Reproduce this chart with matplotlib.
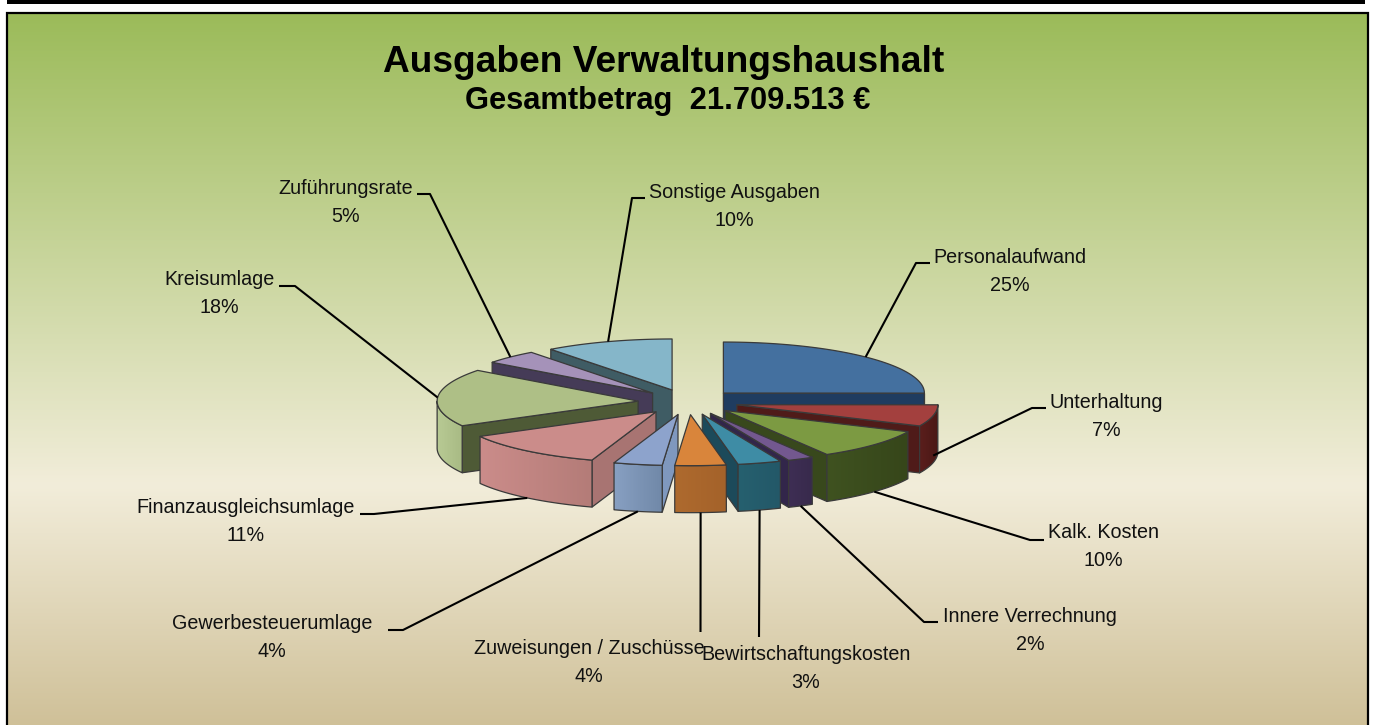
import numpy as np
import matplotlib
matplotlib.use("Agg")
import matplotlib.pyplot as plt
from matplotlib.patches import Polygon, Rectangle
from matplotlib.colors import to_rgb

# ---- data ----
categories = ["Personalaufwand", "Unterhaltung", "Kalk. Kosten", "Innere Verrechnung",
              "Bewirtschaftungskosten", "Zuweisungen / Zuschüsse", "Gewerbesteuerumlage",
              "Finanzausgleichsumlage", "Kreisumlage", "Zuführungsrate", "Sonstige Ausgaben"]
shares = [25.0, 6.8, 9.7, 2.1, 3.5, 4.1, 3.9, 11.8, 18.3, 4.4, 10.3]
pct_labels = ["25%", "7%", "10%", "2%", "3%", "4%", "4%", "11%", "18%", "5%", "10%"]
title = "Ausgaben Verwaltungshaushalt"
subtitle = "Gesamtbetrag  21.709.513 €"

# ---- styles ----
top_colors = ["#44709F", "#A3403E", "#7C9A42", "#73588F", "#3E8CA5", "#D9853B",
              "#8DA3CC", "#CB8C8A", "#AEBF86", "#A592B9", "#85B6C9"]
wall_colors = [("#1F3C60", "#1F3C60"), ("#5A1E1C", "#4A1816"), ("#3F5220", "#36461A"),
               ("#3E2E54", "#382A4C"), ("#26606F", "#235868"), ("#AE6A2E", "#A4622A"),
               ("#88A0C2", "#7088A8"), ("#CB8C8A", "#B47C78"), ("#B8CA94", "#A8BA84"),
               ("#443A56", "#443A56"), ("#3C5A62", "#3C5A62")]
cut_colors = ["#1F3C60", "#4F1B19", "#38481C", "#32264A", "#1C4A5A", "#8A5424",
              "#7F98BE", "#A87472", "#4E5A36", "#453B57", "#3F5C64"]
EDGE = "#3a3a3a"
FONT = "Liberation Sans"

# ---- pie geometry, in pixels ----
CX, CY, RX, RY, EXPLODE, DEPTH = 688, 402, 201, 51, 50, 47
anchor_drop = [0, 0.85, 1, 1, 1, 1, 1, 1, 0, 0, 0]

# elbow of each leader (first point comes from the slice)
leaders = [[(916, 263), (930, 263)], [(1032, 408), (1046, 408)], [(1030, 540), (1044, 540)],
           [(924, 622), (938, 622)], [(759, 637)], [(700.5, 632)], [(403, 630), (388, 630)],
           [(374, 514), (360, 514)], [(295, 286), (279, 286)], [(430, 194), (417, 194)],
           [(632, 198), (645, 198)]]
# centre x, baseline y of the first label line
label_pos = [(1010, 263), (1106, 408), (1103, 538), (1030, 622), (806, 660), (589, 654),
             (272, 629), (246, 513), (219, 285), (346, 194), (734, 198)]

fig = plt.figure(figsize=(13.73, 7.25), dpi=100, facecolor="white")
ax = fig.add_axes([0, 0, 1, 1])
ax.set_xlim(0, 1373)
ax.set_ylim(725, 0)
ax.axis("off")

# background gradient
stops_y = [13, 485, 725]
stops_c = np.array([[155, 187, 89], [242, 237, 218], [207, 192, 152]]) / 255
yy = np.arange(13, 725)
grad = np.stack([np.interp(yy, stops_y, stops_c[:, i]) for i in range(3)], axis=1)[:, None, :]
ax.imshow(grad, extent=(6, 1367.5, 725, 13), aspect="auto", zorder=0, interpolation="bilinear")
ax.add_patch(Rectangle((7, 0), 1358, 3.5, fc="black", ec="none", zorder=1))
ax.plot([6.5, 6.5, 1367.5, 1367.5], [725, 13, 13, 725], color="black", lw=1.6, zorder=1,
        solid_joinstyle="miter")


def shaded(points, c1, c2, z):
    """Polygon filled with a horizontal gradient."""
    pts = np.asarray(points)
    c = np.linspace(to_rgb(c1), to_rgb(c2), 64)[None, :, :]
    im = ax.imshow(c, extent=(pts[:, 0].min(), pts[:, 0].max(), pts[:, 1].max(), pts[:, 1].min()),
                   aspect="auto", zorder=z, interpolation="bilinear")
    clip = Polygon(pts, closed=True, transform=ax.transData)
    im.set_clip_path(clip)
    ax.add_patch(Polygon(pts, closed=True, fc="none", ec=EDGE, lw=0.9, zorder=z, joinstyle="round"))


degrees = np.array(shares) / sum(shares) * 360
ends = np.cumsum(degrees)
starts = ends - degrees
mids = (starts + ends) / 2


def rim(apex, th):
    t = np.radians(th)
    return np.array([apex[0] + RX * np.sin(t), apex[1] - RY * np.cos(t)])


order = np.argsort(-np.cos(np.radians(mids)))
for rank, i in enumerate(order):
    z = 2 + rank
    tm = np.radians(mids[i])
    apex = np.array([CX + EXPLODE * np.sin(tm), CY - EXPLODE * RY / RX * np.cos(tm)])
    arc = np.array([rim(apex, a) for a in np.linspace(starts[i], ends[i], 60)])
    down = np.array([0, DEPTH])
    mid_rim = rim(apex, mids[i])
    # cut faces that look towards the viewer
    for th in (starts[i], ends[i]):
        p = rim(apex, th)
        d = p - apex
        n = np.array([-d[1], d[0]])
        if np.dot(n, mid_rim - apex) > 0:
            n = -n
        if n[1] > 1e-6 or abs(th - 90) < 0.01:
            ax.add_patch(Polygon([apex, p, p + down, apex + down], closed=True,
                                 fc=cut_colors[i], ec=EDGE, lw=0.9, zorder=z))
    # outer wall
    lo, hi = max(starts[i], 90), min(ends[i], 270)
    if hi > lo:
        a = np.array([rim(apex, v) for v in np.linspace(lo, hi, 60)])
        wall = np.vstack([a, (a + down)[::-1]])
        shaded(wall, wall_colors[i][0], wall_colors[i][1], z)
    # top
    ax.add_patch(Polygon(np.vstack([apex, arc]), closed=True, fc=top_colors[i], ec=EDGE,
                         lw=0.9, zorder=z, joinstyle="round"))

    # leader
    anchor = mid_rim + down * anchor_drop[i]
    pts = np.vstack([anchor, leaders[i]])
    ax.plot(pts[:, 0], pts[:, 1], color="black", lw=1.5, zorder=30, solid_capstyle="butt")

    x, y = label_pos[i]
    ax.text(x, y, categories[i], ha="center", va="baseline", fontsize=14.2, family=FONT,
            color="#111111", zorder=31)
    ax.text(x, y + 28, pct_labels[i], ha="center", va="baseline", fontsize=14.2, family=FONT,
            color="#111111", zorder=31)

ax.text(664, 72, title, ha="center", va="baseline", fontsize=26.7, fontweight="bold",
        family=FONT, color="black", zorder=31)
ax.text(667.5, 109, subtitle, ha="center", va="baseline", fontsize=22.2, fontweight="bold",
        family=FONT, color="black", zorder=31)

ax.set_xlim(0, 1373)
ax.set_ylim(725, 0)
fig.savefig("out.png", dpi=100, facecolor="white")
